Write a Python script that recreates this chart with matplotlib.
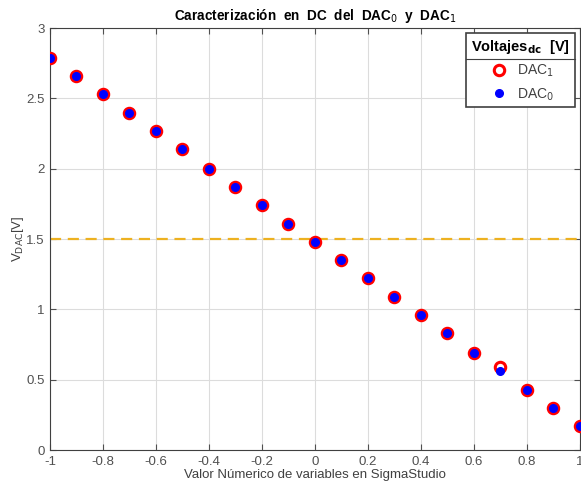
import numpy as np
import matplotlib.pyplot as plt
from matplotlib.lines import Line2D

plt.rcParams['font.family'] = ['Liberation Sans', 'DejaVu Sans']

# Datos
valores = [-1, -0.9, -0.8, -0.7, -0.6, -0.5, -0.4, -0.3, -0.2, -0.1, 0,
           0.1, 0.2, 0.3, 0.4, 0.5, 0.6, 0.7, 0.8, 0.9, 1]
dac1 = [2.79, 2.66, 2.53, 2.40, 2.27, 2.14, 2.00, 1.87, 1.74, 1.61, 1.48,
        1.35, 1.22, 1.09, 0.96, 0.83, 0.69, 0.59, 0.43, 0.30, 0.17]
dac0 = [2.79, 2.66, 2.53, 2.40, 2.27, 2.14, 2.00, 1.87, 1.74, 1.61, 1.48,
        1.35, 1.22, 1.09, 0.96, 0.83, 0.69, 0.565, 0.43, 0.30, 0.17]
referencia = 1.5

fig = plt.figure(figsize=(5.81, 4.86), dpi=100)
ax = fig.add_axes([0.086, 0.074, 0.912, 0.868])

ax.axhline(referencia, color='#EDB120', lw=1.6, ls=(0, (5, 3)), zorder=1)
ax.plot(valores, dac1, 'o', ls='none', ms=7.5, mfc='none', mec='red', mew=2.2,
        label='DAC$_1$', zorder=3)
ax.plot(valores, dac0, 'o', ls='none', ms=5.5, mfc='blue', mec='blue',
        label='DAC$_0$', zorder=4)

ax.set_xlim(-1, 1)
ax.set_ylim(0, 3)
ax.set_xticks(np.arange(-1, 1.01, 0.2))
ax.set_xticklabels(['-1', '-0.8', '-0.6', '-0.4', '-0.2', '0', '0.2', '0.4', '0.6', '0.8', '1'])
ax.set_yticks(np.arange(0, 3.01, 0.5))
ax.set_yticklabels(['0', '0.5', '1', '1.5', '2', '2.5', '3'])
ax.grid(True, color='#dcdcdc', lw=0.8)
ax.set_axisbelow(True)
ax.tick_params(direction='in', top=True, right=True, labelsize=9.5,
               colors='#505050', length=4, pad=4)
for s in ax.spines.values():
    s.set_color('#404040')

ax.set_title('Caracterización  en  DC  del  DAC$_0$  y  DAC$_1$',
             fontsize=9.8, fontweight='bold', pad=6)
ax.set_xlabel('Valor Númerico de variables en SigmaStudio', fontsize=9.5,
              color='#404040', labelpad=1)
ax.set_ylabel(r'V$_{\mathrm{DAC}}$[V]', fontsize=9.5, color='#404040', labelpad=0)

leg = ax.legend(loc='upper right', title=r'Voltajes$_{\mathbf{dc}}$  [V]',
                fontsize=10, title_fontproperties={'weight': 'bold', 'size': 10.5},
                fancybox=False, edgecolor='#404040', framealpha=1,
                borderaxespad=0.35, handletextpad=0.5, borderpad=0.35,
                handlelength=1.6)
leg.get_frame().set_linewidth(1.2)
for t in leg.get_texts():
    t.set_color('#404040')

# línea bajo el título de la leyenda
fig.canvas.draw()
r = fig.canvas.get_renderer()
fb = leg.get_frame().get_window_extent(r)
tb = leg.get_title().get_window_extent(r)
yline = tb.y0 - 3
inv = fig.transFigure.inverted()
x0, y0 = inv.transform((fb.x0, yline))
x1, _ = inv.transform((fb.x1, yline))
fig.add_artist(Line2D([x0, x1], [y0, y0], color='#404040', lw=0.8))

fig.savefig('out.png', dpi=100)
